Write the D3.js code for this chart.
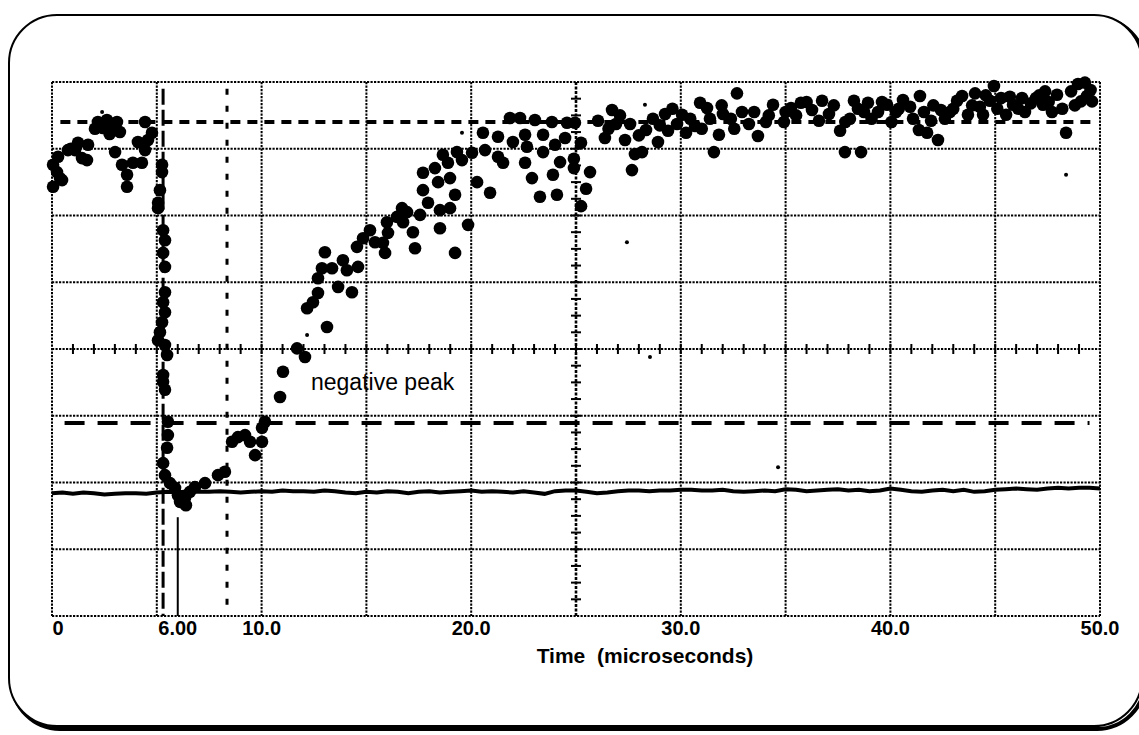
<!DOCTYPE html>
<html>
<head>
<meta charset="utf-8">
<script src="https://cdn.jsdelivr.net/npm/d3@7"></script>
<style>
body { margin: 0; background: #fff; }
</style>
</head>
<body>
<script>
// SVG size
const width = 1139;
const height = 735;
const plot = {left: 52, top: 82, right: 1100, bottom: 616};

// x ticks (microseconds)
const xTickValues = [0, 6, 10, 20, 30, 40, 50];
const xTickLabels = ["0", "6.00", "10.0", "20.0", "30.0", "40.0", "50.0"];
const xGridValues = [0, 5, 10, 15, 20, 25, 30, 35, 40, 45, 50];
const yGridValues = [0, 1, 2, 3, 4, 5, 6, 7, 8];

// reference levels / cursors
const upperLevel = 7.40;
const lowerLevel = 2.89;
const cursorA = 5.30;
const cursorB = 8.35;
const markerTime = 6.0;
const markerTop = 1.48;

// signal dots [time us, divisions]
const beforeDots = [
  [0.05,6.43],[0.05,6.76],[0.24,6.65],[0.38,6.56],[0.48,6.53],[0.29,6.88],[0.76,6.98],
  [1.24,7.09],[1.72,7.06],[1.10,6.98],[1.43,6.86],[1.67,6.83],[2.19,7.40],[2.43,7.31],
  [2.62,7.43],[2.91,7.36],[3.10,7.40],[3.24,7.25],[3.01,6.95],[3.34,6.76],[3.58,6.61],
  [3.58,6.43],[3.86,6.79],[4.29,6.79],[4.44,6.98],[4.44,7.40],[4.10,7.10],[4.58,7.13],
  [4.77,7.24],[2.05,7.30],[2.75,7.22],[0.90,7.00]
];
const dropDots = [
  [5.25,6.76],[5.25,6.65],[5.15,6.38],[5.06,6.19],[5.06,6.11],[5.30,5.78],[5.39,5.63],
  [5.30,5.44],[5.39,5.23],[5.39,4.85],[5.30,4.70],[5.39,4.55],[5.25,4.40],[5.15,4.25],
  [5.06,4.13],[5.39,4.06],[5.49,3.91],[5.30,3.61],[5.30,3.51],[5.39,3.39],[5.53,2.91],
  [5.53,2.71],[5.49,2.52],[5.30,2.29],[5.39,2.11],[5.63,1.99],[5.87,1.92],[6.01,1.81],
  [6.11,1.71],[6.39,1.66],[6.35,1.77],[6.58,1.86],[6.82,1.93],[7.30,1.99],
  [7.92,2.11],[8.25,2.16],[8.59,2.61],[8.87,2.68],[9.21,2.71],[9.45,2.61],[9.69,2.41],
  [10.02,2.61],[10.02,2.82]
];
const riseDots = [
  [10.16,2.91],[10.88,3.28],[11.02,3.66],[11.69,4.01],[12.07,3.88],[13.12,4.33],[12.17,4.61],
  [12.45,4.70],[12.69,4.84],[12.69,5.06],[12.88,5.21],[13.02,5.45],[13.36,5.21],[13.65,4.93],
  [13.88,5.33],[14.07,5.18],[14.31,4.85],[14.60,5.23],[14.55,5.53],[14.84,5.66],[15.17,5.78],
  [15.41,5.60],[15.79,5.59],[15.89,5.44],[15.98,5.90],[16.03,5.74],[16.46,5.98],[16.70,6.11],
  [16.75,5.90],[16.94,6.05],[17.22,5.75],[17.32,5.51],[17.56,6.01],[17.70,6.64],[17.70,6.38],
  [17.94,6.19],[18.27,6.71],[18.42,6.50],[18.51,6.08],[18.51,5.81],[18.65,6.91],[18.89,6.79],
  [18.99,6.56],[18.99,6.11],[19.23,6.31],[19.23,5.44],[19.32,6.95],[19.56,6.83],[19.85,5.86],
  [20.04,6.94],[20.28,6.50],[20.56,7.24],[20.66,6.98],[20.90,6.34],[21.28,7.18],[21.28,6.88],
  [21.52,6.79],[21.85,7.46],[21.99,7.10],[22.33,7.46],[22.57,7.21],[22.57,6.79],[22.66,7.03],
  [22.90,6.56],[23.04,7.43],[23.28,6.28],[23.43,7.21],[23.43,6.95],[23.85,7.40],[23.90,6.61],
  [24.00,7.06],[24.09,6.31],[24.24,6.80],[24.48,7.16],[24.95,7.39]
];
const plateauDots = [
  [24.57,7.39],[24.90,6.85],[24.90,6.71],[25.24,6.14],[25.48,6.40],[25.67,6.65],[25.24,7.09],
  [26.05,7.42],[26.38,7.16],[26.72,7.58],[26.91,7.37],[27.34,7.13],[27.58,7.37],[27.67,6.68],
  [27.81,6.92],[28.15,6.95],[28.34,7.28],[28.67,7.45],[28.91,7.10],[29.25,7.52],[29.39,7.27],
  [29.82,7.37],[30.06,7.51],[30.25,7.24],[30.68,7.34],[30.92,7.69],[31.25,7.61],[31.39,7.45],
  [31.58,6.95],[31.82,7.21],[32.01,7.52],[32.39,7.45],[32.68,7.83],[32.92,7.55],[33.25,7.37],
  [33.68,7.19],[34.06,7.40],[34.40,7.66],[34.92,7.40],[35.26,7.61],[35.73,7.69],[36.26,7.58],
  [36.59,7.42],[36.74,7.72],[37.07,7.52],[37.60,7.27],[37.83,6.95],[38.07,7.45],[38.26,7.72],
  [38.60,6.95],[38.74,7.55],[38.93,7.69],[39.41,7.55],[39.84,7.66],[40.27,7.55],[40.60,7.73],
  [40.94,7.63],[41.08,7.45],[41.36,7.28],[41.41,7.79],[41.75,7.24],[41.94,7.42],[42.27,7.13],
  [42.41,7.58],[42.84,7.55],[43.18,7.72],[43.42,7.79],[43.70,7.51],[44.04,7.83],[44.27,7.63],
  [44.42,7.51],[44.75,7.72],[44.94,7.94],[45.28,7.76],[45.52,7.51],[45.85,7.66],[46.28,7.76],
  [46.42,7.55],[46.95,7.76],[47.28,7.66],[47.38,7.86],[47.71,7.55],[47.95,7.81],[48.38,7.24],
  [48.62,7.86],[48.95,7.97],[49.09,7.71],[49.28,7.99],[49.38,7.79],[49.62,7.71],
  [26.55,7.30],[27.10,7.50],[28.00,7.20],[29.00,7.35],[29.60,7.60],[30.45,7.45],[31.00,7.30],
  [31.95,7.65],[32.55,7.30],[33.50,7.55],[34.20,7.50],[35.00,7.55],[35.50,7.50],[36.00,7.70],
  [37.30,7.65],[37.85,7.40],[38.45,7.60],[39.10,7.45],[39.60,7.70],[40.05,7.40],[40.40,7.60],
  [41.60,7.55],[42.05,7.65],[42.60,7.45],[43.00,7.60],[43.90,7.65],[44.55,7.80],[45.10,7.60],
  [45.70,7.78],[46.10,7.60],[46.70,7.68],[47.10,7.80],[47.55,7.70],[48.20,7.60],[48.80,7.65],
  [49.55,7.88]
];
// small stray specks
const specks = [
  [2.39,7.55],[19.56,7.24],[27.43,5.60],[28.53,3.88],[34.64,2.23],[48.38,6.61],[28.29,7.66],[12.17,4.21]
];

// baseline trace, sampled every 0.5 us
const baselineStep = 0.5;
const baselineValues = [
  1.84,1.85,1.83,1.85,1.84,1.82,1.83,1.84,1.84,1.83,1.85,
  1.86,1.85,1.87,1.86,1.86,1.87,1.86,1.85,1.86,1.87,
  1.86,1.88,1.87,1.87,1.86,1.88,1.87,1.85,1.84,1.86,
  1.85,1.87,1.86,1.84,1.86,1.87,1.85,1.86,1.87,1.88,
  1.86,1.87,1.86,1.85,1.87,1.85,1.83,1.87,1.88,1.88,
  1.86,1.84,1.85,1.87,1.88,1.88,1.87,1.88,1.88,1.89,
  1.89,1.88,1.88,1.89,1.87,1.86,1.87,1.88,1.87,1.90,
  1.89,1.87,1.88,1.89,1.90,1.88,1.89,1.87,1.88,1.91,
  1.89,1.87,1.86,1.88,1.89,1.87,1.89,1.86,1.87,1.89,
  1.90,1.91,1.90,1.89,1.91,1.92,1.91,1.92,1.92,1.91
];

// create SVG
const svg = d3.select("body")
    .append("svg")
    .attr("width", width)
    .attr("height", height);

// frame with shadow
svg.append("rect")
    .attr("x", 12).attr("y", 18)
    .attr("width", 1133).attr("height", 711)
    .attr("rx", 48).attr("ry", 48)
    .attr("fill", "none")
    .attr("stroke", "#000")
    .attr("stroke-width", 4);
svg.append("rect")
    .attr("x", 9).attr("y", 15)
    .attr("width", 1133).attr("height", 711)
    .attr("rx", 48).attr("ry", 48)
    .attr("fill", "#fff")
    .attr("stroke", "#000")
    .attr("stroke-width", 2);

// scales
const x = d3.scaleLinear().domain([0, 50]).range([plot.left, plot.right]);
const y = d3.scaleLinear().domain([0, 8]).range([plot.bottom, plot.top]);

// grid
const grid = svg.append("g");
grid.selectAll(".vg")
    .data(xGridValues)
    .enter()
    .append("line")
    .attr("x1", d => x(d)).attr("x2", d => x(d))
    .attr("y1", y(8)).attr("y2", y(0))
    .attr("stroke", "#000")
    .attr("stroke-width", d => d === 25 ? 2.6 : 2)
    .attr("stroke-dasharray", d => d === 25 ? "3,1.5" : "2.2,1.3");
grid.selectAll(".hg")
    .data(yGridValues)
    .enter()
    .append("line")
    .attr("x1", x(0)).attr("x2", x(50))
    .attr("y1", d => y(d)).attr("y2", d => y(d))
    .attr("stroke", "#000")
    .attr("stroke-width", 2)
    .attr("stroke-dasharray", "2.2,1.3");

// minor ticks on centre cross
grid.selectAll(".mx")
    .data(d3.range(1, 50))
    .enter()
    .append("line")
    .attr("x1", d => x(d)).attr("x2", d => x(d))
    .attr("y1", y(4) - 5).attr("y2", y(4) + 5)
    .attr("stroke", "#000")
    .attr("stroke-width", 2);
grid.selectAll(".my")
    .data(d3.range(0.25, 8, 0.25))
    .enter()
    .append("line")
    .attr("x1", x(25) - 5).attr("x2", x(25) + 5)
    .attr("y1", d => y(d)).attr("y2", d => y(d))
    .attr("stroke", "#000")
    .attr("stroke-width", 2);

// reference lines
svg.append("line")
    .attr("x1", x(0.4)).attr("x2", x(49.8))
    .attr("y1", y(upperLevel)).attr("y2", y(upperLevel))
    .attr("stroke", "#000").attr("stroke-width", 4)
    .attr("stroke-dasharray", "10,7");
svg.append("line")
    .attr("x1", x(0.6)).attr("x2", x(49.5))
    .attr("y1", y(lowerLevel)).attr("y2", y(lowerLevel))
    .attr("stroke", "#000").attr("stroke-width", 4)
    .attr("stroke-dasharray", "20,13");
svg.append("line")
    .attr("x1", x(cursorA)).attr("x2", x(cursorA))
    .attr("y1", y(7.9)).attr("y2", y(0))
    .attr("stroke", "#000").attr("stroke-width", 3)
    .attr("stroke-dasharray", "16,5");
svg.append("line")
    .attr("x1", x(cursorB)).attr("x2", x(cursorB))
    .attr("y1", y(7.9)).attr("y2", y(0))
    .attr("stroke", "#000").attr("stroke-width", 3)
    .attr("stroke-dasharray", "6,11");
svg.append("line")
    .attr("x1", x(markerTime)).attr("x2", x(markerTime))
    .attr("y1", y(markerTop)).attr("y2", y(0))
    .attr("stroke", "#000").attr("stroke-width", 2);

// baseline trace
const line = d3.line()
    .x((d, i) => x(i * baselineStep))
    .y(d => y(d));
svg.append("path")
    .datum(baselineValues)
    .attr("d", line)
    .attr("fill", "none")
    .attr("stroke", "#000")
    .attr("stroke-width", 4);

// dots
const allDots = beforeDots.concat(dropDots, riseDots, plateauDots);
svg.append("g")
    .selectAll("circle")
    .data(allDots)
    .enter()
    .append("circle")
    .attr("cx", d => x(d[0]))
    .attr("cy", d => y(d[1]))
    .attr("r", 6.3)
    .attr("fill", "#000");
svg.append("g")
    .selectAll("circle")
    .data(specks)
    .enter()
    .append("circle")
    .attr("cx", d => x(d[0]))
    .attr("cy", d => y(d[1]))
    .attr("r", 2)
    .attr("fill", "#000");

// tick labels
svg.selectAll(".tl")
    .data(xTickValues)
    .enter()
    .append("text")
    .attr("x", (d, i) => x(d) + (i === 0 ? 6 : 0))
    .attr("y", 635)
    .attr("text-anchor", "middle")
    .style("font-family", "'Liberation Sans', Arial, sans-serif")
    .style("font-weight", "bold")
    .style("font-size", "20px")
    .text((d, i) => xTickLabels[i]);

// axis title
svg.append("text")
    .attr("x", 645)
    .attr("y", 663)
    .attr("text-anchor", "middle")
    .style("white-space", "pre")
    .style("font-family", "'Liberation Sans', Arial, sans-serif")
    .style("font-weight", "bold")
    .style("font-size", "21px")
    .text("Time  (microseconds)");

// annotation
svg.append("text")
    .attr("x", 311)
    .attr("y", 390)
    .style("font-family", "'Liberation Sans', Arial, sans-serif")
    .style("font-size", "23px")
    .text("negative peak");
</script>
</body>
</html>
